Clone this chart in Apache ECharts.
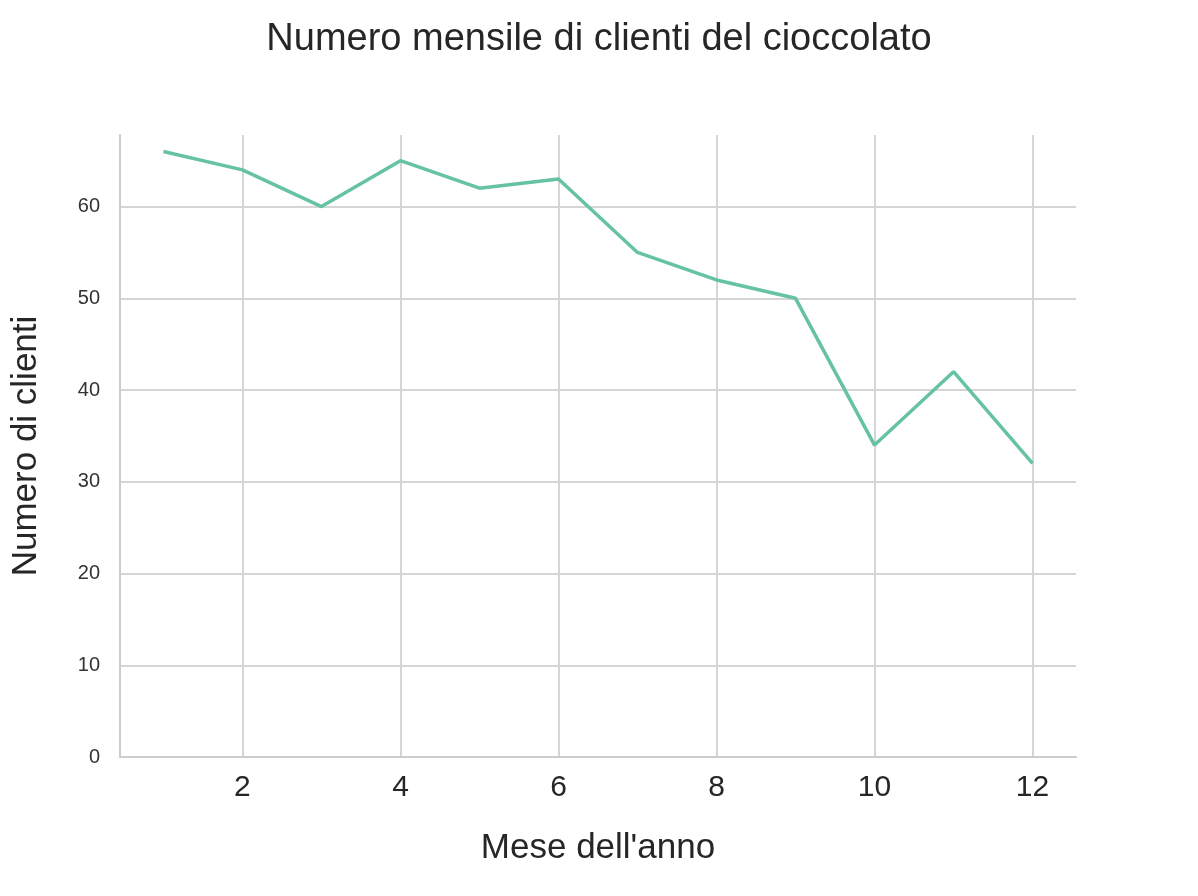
<!DOCTYPE html>
<html><head><meta charset="utf-8"><script src="https://cdn.jsdelivr.net/npm/echarts@6/dist/echarts.min.js"></script>
<style>html,body{margin:0;background:#fff}#c{width:1198px;height:896px}</style></head>
<body><div id="c"></div><script>
const months=[1,2,3,4,5,6,7,8,9,10,11,12];
const clients=[66,64,60,65,62,63,55,52,50,34,42,32];
const xTicks=[2,4,6,8,10,12];
const yTicks=[0,10,20,30,40,50,60];
const ch=echarts.init(document.getElementById('c'));
ch.setOption({
 title:{text:'Numero mensile di clienti del cioccolato',left:'center',top:16,textStyle:{fontFamily:'Liberation Sans Narrow, Liberation Sans',fontWeight:'normal',fontSize:38,color:'#262626'}},
 grid:{left:120,right:122,top:135,bottom:139},
 xAxis:{type:'value',min:0.45,max:12.55,name:"Mese dell'anno",nameLocation:'middle',nameGap:74,
  nameTextStyle:{fontFamily:'Liberation Sans Narrow, Liberation Sans',fontSize:35,color:'#262626'},
  axisLine:{show:true,lineStyle:{color:'#ccc',width:2}},axisTick:{show:false,customValues:xTicks},
  splitLine:{show:true,lineStyle:{color:'#d5d5d5',width:2}},
  axisLabel:{customValues:xTicks,fontSize:30,color:'#262626',margin:16,fontFamily:'Liberation Sans'}},
 yAxis:{type:'value',min:0,max:67.8,name:'Numero di clienti',nameLocation:'middle',nameGap:76,
  nameTextStyle:{fontFamily:'Liberation Sans Narrow, Liberation Sans',fontSize:35,color:'#262626'},
  axisLine:{show:true,lineStyle:{color:'#ccc',width:2}},axisTick:{show:false,customValues:yTicks},
  splitLine:{show:true,lineStyle:{color:'#d5d5d5',width:2}},
  axisLabel:{customValues:yTicks,fontSize:20,color:'#333',margin:20,fontFamily:'Liberation Sans'}},
 series:[{type:'line',data:months.map((m,i)=>[m,clients[i]]),showSymbol:false,lineStyle:{color:'#66c2a5',width:3.5},animation:false}]
});
</script></body></html>
